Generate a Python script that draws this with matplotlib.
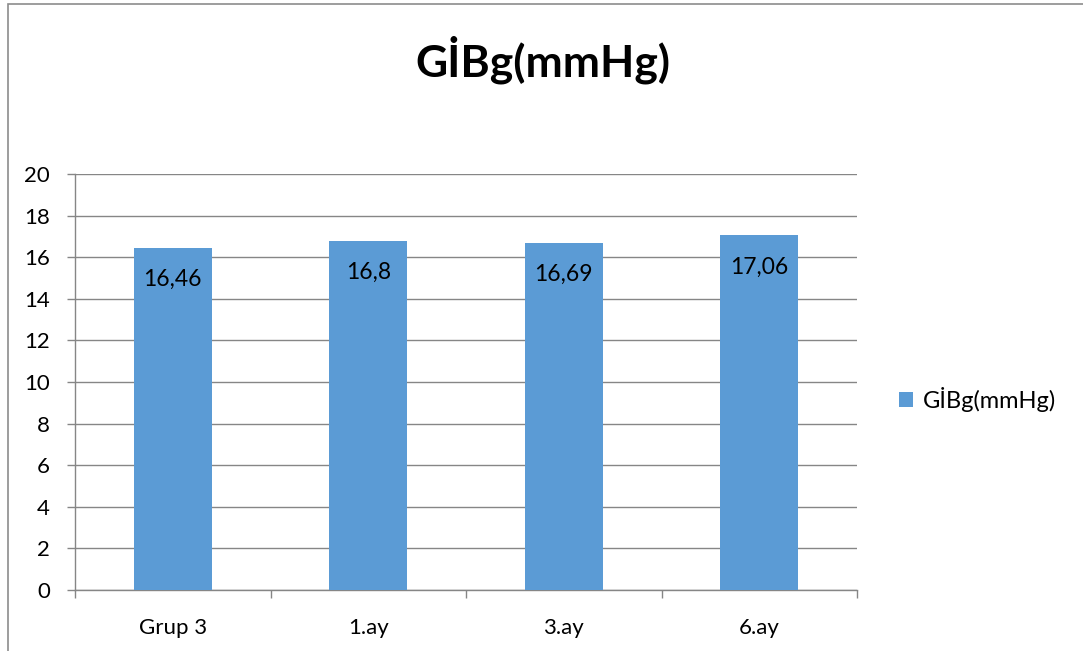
import matplotlib.pyplot as plt
from matplotlib.patches import Rectangle

# Datos del grafico
kategoriler = ["Grup 3", "1.ay", "3.ay", "6.ay"]
degerler = [16.46, 16.8, 16.69, 17.06]
etiketler = ["16,46", "16,8", "16,69", "17,06"]
seri_adi = "GİBg(mmHg)"

plt.rcParams['font.family'] = ['Lato', 'DejaVu Sans']

fig = plt.figure(figsize=(10.83, 6.51), dpi=100)
ax = fig.add_axes([75 / 1083, 1 - 590 / 651, 782 / 1083, 416 / 651])

x = list(range(len(kategoriler)))
barlar = ax.bar(x, degerler, width=0.4, color="#5B9BD5", zorder=3, label=seri_adi)

# Etiketler cubuklarin icinde, ust kisimda
for xi, v, et in zip(x, degerler, etiketler):
    ax.annotate(et, (xi, v), xytext=(0, -23), textcoords="offset points",
                ha="center", va="center", fontsize=16.5, color="black", zorder=4)

ax.set_xlim(-0.5, len(kategoriler) - 0.5)
ax.set_ylim(0, 20)
ax.set_yticks(range(0, 21, 2))
ax.set_xticks(x)
ax.set_xticklabels(kategoriler)
ax.set_xticks([i - 0.5 for i in range(len(kategoriler) + 1)], minor=True)

ax.grid(axis="y", color="#868686", linewidth=1, zorder=0)
for s in ["top", "right"]:
    ax.spines[s].set_visible(False)
for s in ["left", "bottom"]:
    ax.spines[s].set_color("#868686")
    ax.spines[s].set_linewidth(1)

ax.tick_params(axis="y", length=6, width=1, color="#868686", pad=12, labelsize=16)
ax.tick_params(axis="x", which="major", length=0, pad=20, labelsize=16)
ax.tick_params(axis="x", which="minor", length=6, width=1, color="#868686")

fig.text(543 / 1083, 1 - 60 / 651, seri_adi, ha="center", va="center",
         fontsize=32, fontweight="bold")

fig.legend(handles=[barlar], labels=[seri_adi], loc="center left",
           bbox_to_anchor=(878 / 1083, 1 - 399 / 651), frameon=False,
           fontsize=17, handlelength=0.6, handleheight=0.6, handletextpad=0.4)

# Cerceve
fig.patches.append(Rectangle((7.5 / 1083, -0.1), 1.2, 1 - 3.5 / 651 + 0.1,
                             transform=fig.transFigure, fill=False,
                             edgecolor="#8c8c8c", linewidth=1.2))

fig.savefig("out.png", dpi=100)
